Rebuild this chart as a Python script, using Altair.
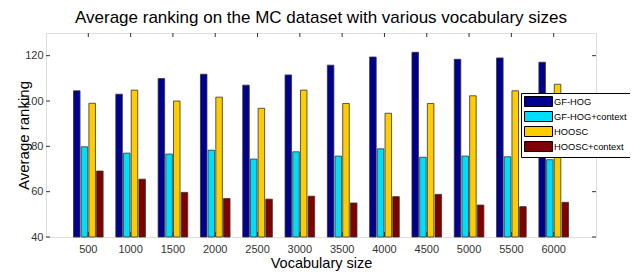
import altair as alt
import pandas as pd

sizes = ["500", "1000", "1500", "2000", "2500", "3000", "3500", "4000", "4500", "5000", "5500", "6000"]
methods = ["GF-HOG", "GF-HOG+context", "HOOSC", "HOOSC+context"]
colors = ["#00008F", "#00DDF8", "#FFCC00", "#800000"]

gf_hog = [104.5, 103.0, 109.9, 111.8, 107.0, 111.5, 115.8, 119.4, 121.5, 118.4, 119.0, 117.1]
gf_hog_ctx = [79.8, 77.0, 76.6, 78.3, 74.4, 77.6, 75.7, 78.9, 75.2, 75.7, 75.4, 74.1]
hoosc = [99.0, 104.8, 100.0, 101.7, 96.8, 104.8, 98.9, 94.6, 98.9, 102.3, 104.5, 107.4]
hoosc_ctx = [69.1, 65.5, 59.7, 57.0, 56.7, 58.0, 55.0, 57.8, 58.8, 54.1, 53.4, 55.3]

y_ticks = [40, 60, 80, 100, 120]

rows = []
for m, vals in zip(methods, [gf_hog, gf_hog_ctx, hoosc, hoosc_ctx]):
    for s, v in zip(sizes, vals):
        rows.append({"size": s, "method": m, "value": v})
df = pd.DataFrame(rows)
df_x = pd.DataFrame({"size": sizes})
df_y = pd.DataFrame({"tick": y_ticks})

W, H = 550, 204
FONT = "Liberation Sans"

xscale = alt.Scale(domain=sizes, paddingInner=0.3, paddingOuter=0.65)
yscale = alt.Scale(domain=[40, 130], nice=False, zero=False)

bars = alt.Chart(df).mark_bar(stroke="#333", strokeWidth=0.8).encode(
    x=alt.X("size:O", scale=xscale, sort=sizes,
            axis=alt.Axis(title="Vocabulary size", ticks=False, domain=False,
                          labelAngle=0, labelPadding=6, titlePadding=2,
                          labelFontSize=11, titleFontSize=14.5,
                          labelColor="#333", titleColor="#000",
                          labelFont=FONT, titleFont=FONT, titleFontWeight="normal")),
    xOffset=alt.XOffset("method:N", sort=methods,
                        scale=alt.Scale(domain=methods, paddingInner=0.15, paddingOuter=0)),
    y=alt.Y("value:Q", scale=yscale,
            axis=alt.Axis(title="Average ranking", values=y_ticks, ticks=False, domain=False,
                          grid=False, labelPadding=3, labelFontSize=11, titleFontSize=15,
                          labelColor="#333", titleColor="#000",
                          labelFont=FONT, titleFont=FONT, titleFontWeight="normal",
                          titleX=-23, titleBaseline="middle")),
    y2=alt.datum(40),
    color=alt.Color("method:N", sort=methods,
                    scale=alt.Scale(domain=methods, range=colors),
                    legend=alt.Legend(
                        title=None, orient="none", legendX=475, legendY=60,
                        symbolType="M-1,-1H4.6V1H-1Z", symbolSize=100,
                        symbolStrokeColor="#000", symbolStrokeWidth=1,
                        symbolOpacity=1,
                        labelOffset=19, labelFontSize=9.3, labelFont=FONT,
                        labelColor="#000", padding=3, rowPadding=0,
                        fillColor="white", strokeColor="#000")),
)

tick_len = 4
top_ticks = alt.Chart(df_x).mark_rule(color="#333", strokeWidth=1).encode(
    x=alt.X("size:O", scale=xscale, sort=sizes), y=alt.value(0), y2=alt.value(tick_len))
bot_ticks = alt.Chart(df_x).mark_rule(color="#333", strokeWidth=1).encode(
    x=alt.X("size:O", scale=xscale, sort=sizes), y=alt.value(H), y2=alt.value(H - tick_len - 1))
left_ticks = alt.Chart(df_y).mark_rule(color="#333", strokeWidth=1).encode(
    y=alt.Y("tick:Q", scale=yscale), x=alt.value(0), x2=alt.value(tick_len))
right_ticks = alt.Chart(df_y).mark_rule(color="#333", strokeWidth=1).encode(
    y=alt.Y("tick:Q", scale=yscale), x=alt.value(W), x2=alt.value(W - tick_len))

chart = alt.layer(bars, top_ticks, bot_ticks, left_ticks, right_ticks).properties(
    width=W, height=H,
    title=alt.TitleParams("Average ranking on the MC dataset with various vocabulary sizes",
                          fontSize=17, font=FONT, fontWeight="normal", color="#000",
                          anchor="middle", offset=6),
    autosize=alt.AutoSizeParams(type="none"),
    padding={"left": 38, "top": 25, "right": 34, "bottom": 34},
).configure_view(stroke="#333", strokeWidth=1).configure(background="white")

chart.save("out.html", embed_options={"renderer": "svg", "actions": False})
